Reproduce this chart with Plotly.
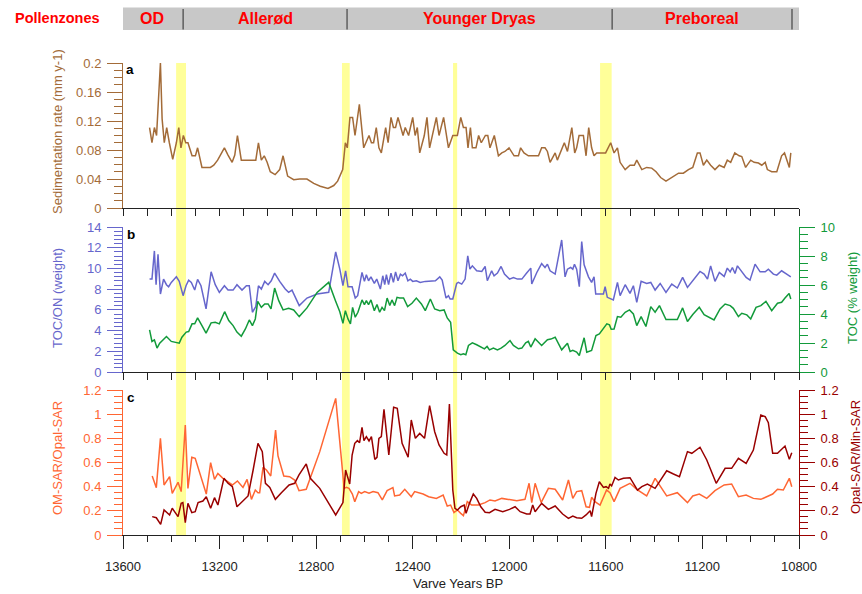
import plotly.graph_objects as go

# ---------------------------------------------------------------- data
# (a) sedimentation rate, mm/yr
SED_YEARS = [13490, 13480, 13470, 13461, 13445, 13438, 13429, 13419, 13408, 13400, 13394, 13379,
             13369, 13360, 13350, 13340, 13331, 13314, 13300, 13291, 13273, 13238, 13224, 13208,
             13180, 13165, 13148, 13137, 13126, 13110, 13050, 13039, 13027, 13015, 13003, 12990,
             12970, 12951, 12937, 12918, 12893, 12868, 12838, 12810, 12783, 12751, 12727, 12711,
             12690, 12679, 12671, 12660, 12649, 12639, 12621, 12603, 12581, 12571, 12562, 12551,
             12540, 12530, 12512, 12502, 12490, 12480, 12471, 12461, 12440, 12431, 12417, 12400,
             12390, 12381, 12371, 12352, 12341, 12330, 12302, 12291, 12272, 12252, 12234, 12215,
             12201, 12190, 12179, 12171, 12161, 12153, 12138, 12127, 12116, 12099, 12089, 12080,
             12062, 12045, 12031, 12018, 12001, 11980, 11962, 11953, 11939, 11921, 11879, 11866,
             11852, 11842, 11831, 11810, 11801, 11772, 11759, 11741, 11729, 11721, 11711, 11693,
             11682, 11671, 11659, 11649, 11638, 11601, 11580, 11566, 11552, 11541, 11520, 11500,
             11482, 11472, 11451, 11431, 11410, 11392, 11373, 11351, 11327, 11299, 11279, 11258,
             11240, 11221, 11210, 11196, 11182, 11166, 11148, 11130, 11110, 11097, 11083, 11066,
             11048, 11037, 11021, 11000, 10986, 10968, 10954, 10940, 10931, 10913, 10892, 10872,
             10860, 10840, 10834]
SED_RATE = [0.111, 0.090, 0.111, 0.100, 0.200, 0.123, 0.090, 0.111, 0.090, 0.075, 0.067, 0.090,
            0.111, 0.083, 0.100, 0.090, 0.090, 0.072, 0.072, 0.083, 0.056, 0.056, 0.059, 0.066,
            0.083, 0.073, 0.063, 0.073, 0.100, 0.066, 0.066, 0.090, 0.066, 0.072, 0.063, 0.050,
            0.046, 0.053, 0.072, 0.044, 0.039, 0.040, 0.040, 0.034, 0.030, 0.027, 0.031, 0.037,
            0.053, 0.090, 0.083, 0.125, 0.125, 0.100, 0.143, 0.083, 0.100, 0.090, 0.090, 0.111,
            0.083, 0.076, 0.111, 0.090, 0.125, 0.111, 0.111, 0.125, 0.100, 0.111, 0.100, 0.125,
            0.100, 0.111, 0.076, 0.100, 0.125, 0.083, 0.125, 0.100, 0.125, 0.083, 0.100, 0.100,
            0.125, 0.111, 0.111, 0.083, 0.111, 0.083, 0.083, 0.100, 0.090, 0.100, 0.100, 0.083,
            0.100, 0.072, 0.076, 0.078, 0.083, 0.072, 0.072, 0.083, 0.076, 0.072, 0.072, 0.083,
            0.083, 0.078, 0.063, 0.076, 0.066, 0.090, 0.078, 0.111, 0.076, 0.083, 0.100, 0.100,
            0.072, 0.111, 0.083, 0.072, 0.076, 0.076, 0.090, 0.076, 0.083, 0.063, 0.053, 0.059,
            0.059, 0.066, 0.053, 0.056, 0.055, 0.050, 0.042, 0.037, 0.042, 0.048, 0.048, 0.053,
            0.056, 0.076, 0.076, 0.059, 0.066, 0.059, 0.053, 0.059, 0.056, 0.066, 0.063, 0.076,
            0.072, 0.071, 0.056, 0.066, 0.063, 0.062, 0.059, 0.063, 0.053, 0.050, 0.050, 0.072,
            0.076, 0.056, 0.076]

# (b) TOC/ON weight ratio
TOCON_YEARS = [13490, 13480, 13470, 13463, 13455, 13445, 13432, 13420, 13411, 13400, 13379, 13367,
               13351, 13339, 13328, 13317, 13303, 13291, 13277, 13256, 13235, 13218, 13201, 13180,
               13165, 13144, 13128, 13107, 13089, 13077, 13064, 13050, 13039, 13027, 13013, 12999,
               12986, 12972, 12951, 12928, 12914, 12900, 12870, 12838, 12796, 12748, 12719, 12702,
               12689, 12678, 12668, 12651, 12638, 12628, 12610, 12600, 12592, 12583, 12573, 12559,
               12549, 12534, 12524, 12516, 12509, 12500, 12490, 12480, 12471, 12461, 12451, 12442,
               12431, 12420, 12410, 12400, 12385, 12369, 12348, 12327, 12306, 12288, 12278, 12262,
               12252, 12245, 12234, 12218, 12211, 12197, 12183, 12172, 12163, 12153, 12135, 12114,
               12100, 12091, 12073, 12063, 12049, 12034, 12020, 11999, 11983, 11966, 11948, 11928,
               11911, 11907, 11886, 11866, 11852, 11842, 11831, 11810, 11783, 11769, 11759, 11746,
               11737, 11730, 11721, 11710, 11700, 11690, 11672, 11659, 11649, 11642, 11624, 11610,
               11603, 11594, 11569, 11552, 11541, 11520, 11500, 11486, 11472, 11454, 11431, 11414,
               11396, 11375, 11351, 11327, 11304, 11282, 11262, 11240, 11224, 11210, 11193, 11179,
               11166, 11148, 11130, 11110, 11097, 11085, 11076, 11065, 11055, 11041, 11019, 11003,
               10982, 10961, 10940, 10927, 10906, 10892, 10872, 10851, 10834]
TOCON = [8.97, 8.97, 11.69, 8.43, 11.37, 7.53, 8.97, 8.43, 8.23, 8.65, 9.19, 8.75,
         7.37, 8.33, 8.87, 8.65, 7.91, 8.94, 8.33, 6.09, 9.67, 8.43, 7.69, 8.33,
         7.91, 7.91, 8.43, 7.91, 8.33, 8.33, 5.77, 6.31, 8.33, 8.01, 8.75, 8.43,
         8.81, 9.55, 8.75, 8.01, 7.69, 7.91, 6.41, 7.14, 7.53, 7.69, 11.60, 9.93,
         8.33, 9.77, 8.23, 8.23, 7.14, 7.37, 9.61, 8.75, 9.39, 8.81, 9.19, 8.55,
         8.97, 8.01, 9.29, 8.43, 9.39, 8.43, 9.55, 8.65, 9.67, 8.81, 9.45, 9.29,
         9.55, 8.81, 8.97, 8.75, 8.81, 8.65, 8.75, 8.75, 8.81, 9.19, 8.87, 7.14,
         7.37, 7.05, 7.05, 8.55, 8.65, 8.49, 8.97, 11.21, 9.93, 10.25, 9.77, 9.71,
         10.19, 8.81, 9.77, 9.29, 9.55, 10.19, 9.45, 8.97, 9.13, 8.97, 8.97, 9.55,
         10.03, 8.49, 9.61, 10.47, 10.09, 10.41, 9.77, 9.45, 12.75, 9.19, 9.93, 10.09,
         9.93, 10.41, 9.93, 8.23, 12.59, 10.35, 9.19, 8.65, 9.19, 7.53, 7.53, 7.53,
         8.23, 7.21, 6.95, 8.65, 7.37, 8.43, 7.59, 8.33, 6.73, 8.75, 8.55, 8.65,
         7.91, 8.55, 7.69, 8.49, 8.11, 9.13, 8.17, 8.81, 9.29, 9.71, 9.45, 8.97,
         10.25, 8.75, 9.61, 9.23, 10.03, 9.67, 10.09, 9.51, 10.25, 9.77, 9.13, 8.87,
         10.41, 9.67, 9.67, 9.93, 9.45, 9.35, 9.77, 9.45, 9.19]

# (b) total organic carbon, % weight
TOC_YEARS = [13490, 13480, 13470, 13459, 13448, 13434, 13420, 13400, 13379, 13367, 13356, 13338,
             13328, 13314, 13303, 13291, 13273, 13256, 13235, 13218, 13201, 13179, 13162, 13144,
             13128, 13110, 13093, 13077, 13064, 13052, 13042, 13027, 13013, 12999, 12987, 12972,
             12955, 12937, 12914, 12893, 12870, 12838, 12796, 12748, 12720, 12702, 12689, 12679,
             12668, 12658, 12649, 12638, 12627, 12610, 12600, 12592, 12583, 12573, 12559, 12548,
             12537, 12527, 12517, 12506, 12495, 12486, 12475, 12465, 12454, 12438, 12421, 12403,
             12385, 12364, 12348, 12327, 12309, 12288, 12270, 12257, 12243, 12232, 12215, 12201,
             12190, 12180, 12169, 12153, 12135, 12118, 12103, 12092, 12082, 12066, 12049, 12034,
             12018, 11997, 11983, 11962, 11948, 11932, 11921, 11911, 11893, 11866, 11842, 11828,
             11810, 11783, 11759, 11748, 11737, 11721, 11710, 11690, 11679, 11659, 11641, 11627,
             11610, 11596, 11585, 11578, 11566, 11552, 11538, 11520, 11502, 11486, 11472, 11454,
             11434, 11414, 11396, 11378, 11351, 11304, 11282, 11262, 11240, 11213, 11193, 11175,
             11152, 11127, 11106, 11085, 11072, 11051, 11037, 11016, 11000, 10978, 10958, 10937,
             10913, 10889, 10872, 10858, 10841, 10834]
TOC = [2.91, 2.11, 2.22, 1.65, 1.99, 2.22, 2.45, 2.11, 2.01, 1.99, 2.40, 2.75,
       2.79, 3.32, 3.32, 3.73, 3.20, 2.68, 3.39, 3.43, 3.32, 4.16, 3.55, 3.20,
       2.75, 2.47, 2.97, 3.59, 3.20, 3.66, 4.87, 4.46, 4.69, 4.69, 4.35, 5.79,
       4.92, 4.28, 4.39, 4.28, 3.82, 4.42, 5.49, 6.18, 4.92, 4.16, 3.36, 4.23,
       3.66, 3.32, 4.46, 3.78, 4.12, 4.97, 4.65, 4.92, 4.65, 4.97, 4.23, 4.65,
       4.12, 4.46, 4.23, 5.10, 4.58, 4.97, 4.58, 5.15, 5.10, 5.10, 4.51, 4.74,
       5.10, 4.69, 4.23, 5.03, 4.35, 4.23, 4.28, 3.73, 3.43, 1.53, 1.30, 1.19,
       1.26, 1.19, 1.83, 2.01, 1.88, 1.72, 1.60, 1.76, 1.53, 1.65, 1.53, 1.65,
       1.83, 2.17, 1.83, 1.60, 1.65, 2.01, 2.11, 1.72, 2.29, 1.83, 2.22, 2.27,
       2.40, 1.53, 1.99, 1.42, 1.49, 1.37, 1.14, 2.36, 1.37, 1.49, 2.52, 2.63,
       2.97, 3.32, 3.25, 2.95, 2.97, 3.82, 3.78, 4.12, 4.28, 4.00, 3.20, 3.82,
       3.14, 4.51, 4.12, 4.58, 3.62, 3.62, 4.42, 3.48, 3.96, 4.46, 3.96, 3.78,
       3.59, 4.35, 4.69, 4.58, 4.39, 3.82, 4.05, 3.94, 3.66, 4.46, 4.58, 4.87,
       4.23, 4.74, 4.81, 5.10, 5.42, 5.03]

# (c) OM-SAR / Opal-SAR
OM_YEARS = [13479, 13462, 13445, 13430, 13407, 13396, 13372, 13359, 13342, 13331, 13315, 13301,
            13255, 13237, 13221, 13207, 13186, 13168, 13147, 13126, 13103, 13086, 13068, 13052,
            13041, 13034, 13020, 13006, 12988, 12968, 12958, 12934, 12910, 12889, 12871, 12841,
            12785, 12719, 12700, 12684, 12675, 12664, 12650, 12640, 12624, 12613, 12599, 12581,
            12564, 12544, 12526, 12506, 12482, 12475, 12454, 12433, 12406, 12392, 12357, 12334,
            12302, 12274, 12257, 12243, 12229, 12215, 12201, 12190, 12174, 12156, 12128, 12100,
            12080, 12059, 12031, 11997, 11969, 11935, 11918, 11907, 11893, 11868, 11838, 11810,
            11779, 11755, 11737, 11721, 11700, 11682, 11668, 11659, 11645, 11624, 11597, 11583,
            11566, 11541, 11500, 11472, 11431, 11396, 11378, 11348, 11304, 11262, 11240, 11213,
            11182, 11148, 11110, 11079, 11051, 11019, 10989, 10958, 10927, 10909, 10889, 10865,
            10840, 10830]
OM_OPAL = [0.488, 0.392, 0.800, 0.414, 0.483, 0.345, 0.436, 0.359, 0.910, 0.386, 0.643, 0.634,
           0.339, 0.599, 0.461, 0.510, 0.469, 0.441, 0.414, 0.447, 0.394, 0.461, 0.295, 0.372,
           0.350, 0.350, 0.560, 0.538, 0.488, 0.869, 0.654, 0.488, 0.483, 0.455, 0.367, 0.378,
           0.690, 1.131, 0.717, 0.386, 0.394, 0.386, 0.339, 0.276, 0.359, 0.345, 0.359, 0.345,
           0.359, 0.350, 0.290, 0.367, 0.392, 0.323, 0.331, 0.378, 0.317, 0.359, 0.339, 0.317,
           0.303, 0.331, 0.240, 0.248, 0.185, 0.207, 0.179, 0.160, 0.276, 0.248, 0.248, 0.268,
           0.290, 0.281, 0.303, 0.295, 0.284, 0.295, 0.428, 0.268, 0.428, 0.268, 0.386, 0.378,
           0.290, 0.455, 0.303, 0.359, 0.367, 0.234, 0.229, 0.312, 0.276, 0.248, 0.372, 0.350,
           0.276, 0.386, 0.428, 0.378, 0.323, 0.469, 0.414, 0.323, 0.350, 0.268, 0.323, 0.339,
           0.303, 0.367, 0.414, 0.422, 0.317, 0.331, 0.303, 0.295, 0.323, 0.339, 0.378, 0.372,
           0.469, 0.400]

# (c) Opal-SAR / Min-SAR
OPAL_YEARS = [13479, 13462, 13444, 13430, 13407, 13396, 13372, 13359, 13352, 13342, 13331, 13315,
              13301, 13289, 13269, 13255, 13237, 13221, 13207, 13193, 13182, 13165, 13147, 13128,
              13103, 13082, 13061, 13041, 13023, 13010, 12992, 12969, 12944, 12912, 12889, 12871,
              12841, 12824, 12785, 12751, 12719, 12689, 12678, 12661, 12651, 12640, 12629, 12620,
              12610, 12602, 12592, 12581, 12571, 12557, 12548, 12540, 12530, 12519, 12499, 12479,
              12464, 12444, 12419, 12406, 12389, 12371, 12351, 12330, 12309, 12291, 12270, 12259,
              12248, 12234, 12225, 12215, 12201, 12187, 12179, 12165, 12149, 12135, 12118, 12100,
              12082, 12059, 12045, 12027, 11999, 11976, 11955, 11928, 11914, 11903, 11893, 11866,
              11838, 11810, 11779, 11755, 11737, 11721, 11700, 11682, 11665, 11659, 11641, 11627,
              11610, 11599, 11589, 11583, 11576, 11562, 11548, 11527, 11500, 11469, 11451, 11428,
              11396, 11378, 11348, 11320, 11295, 11262, 11244, 11210, 11182, 11143, 11106, 11079,
              11051, 11019, 10989, 10958, 10940, 10927, 10909, 10889, 10858, 10840, 10830]
OPAL_MIN = [0.152, 0.143, 0.088, 0.207, 0.166, 0.221, 0.152, 0.262, 0.268, 0.102, 0.262, 0.185,
            0.193, 0.268, 0.281, 0.317, 0.221, 0.309, 0.248, 0.359, 0.469, 0.428, 0.400, 0.234,
            0.284, 0.323, 0.538, 0.759, 0.690, 0.428, 0.394, 0.295, 0.350, 0.414, 0.428, 0.497,
            0.588, 0.469, 0.386, 0.276, 0.166, 0.268, 0.538, 0.422, 0.662, 0.759, 0.781, 0.764,
            0.891, 0.781, 0.814, 0.778, 0.814, 0.626, 0.643, 0.800, 0.814, 1.040, 0.662, 1.057,
            1.048, 0.759, 0.643, 0.952, 0.800, 0.841, 0.800, 1.070, 0.855, 0.745, 0.676, 0.662,
            1.084, 0.372, 0.221, 0.207, 0.234, 0.248, 0.179, 0.262, 0.339, 0.303, 0.234, 0.188,
            0.185, 0.212, 0.201, 0.193, 0.212, 0.234, 0.193, 0.174, 0.174, 0.248, 0.193, 0.262,
            0.212, 0.240, 0.174, 0.138, 0.157, 0.143, 0.138, 0.166, 0.201, 0.152, 0.345, 0.441,
            0.394, 0.400, 0.386, 0.422, 0.406, 0.477, 0.455, 0.469, 0.474, 0.372, 0.400, 0.422,
            0.386, 0.441, 0.532, 0.505, 0.483, 0.690, 0.676, 0.726, 0.621, 0.428, 0.552, 0.552,
            0.634, 0.593, 0.703, 0.993, 0.979, 0.930, 0.676, 0.676, 0.736, 0.626, 0.681]

# highlighted transition intervals (years BP)
BANDS = [(13380, 13339), (12693, 12661), (12233, 12216), (11624, 11576)]

# pollen zones: (label, older edge, younger edge)
ZONE_EDGES = [13351, 12672, 11574, 10829]
ZONES = [("OD", 13608, 13351), ("Allerød", 13351, 12672),
         ("Younger Dryas", 12672, 11574), ("Preboreal", 11574, 10829)]

X_RANGE = [13600, 10800]

# ---------------------------------------------------------------- styling
FONT = "Liberation Sans, Arial, sans-serif"
C_SED = "#A36B38"
C_TOCON = "#6666CC"
C_TOC = "#129A3A"
C_OM = "#FF6633"
C_OPAL = "#990000"
AX = "#222222"

W, H = 862, 594
ML, MR, MT, MB = 123, 63, 63, 59
PW, PH = W - ML - MR, H - MT - MB


def px_x(px):
    return (px - ML) / PW


def px_y(py):
    return (H - MB - py) / PH


def dom(top, bot):
    return [px_y(bot), px_y(top)]


DOM_A = dom(63, 208)
DOM_B = dom(227, 372)
DOM_C = dom(390, 535)

fig = go.Figure()

fig.add_trace(go.Scatter(x=SED_YEARS, y=SED_RATE, mode="lines", xaxis="x", yaxis="y",
                         line=dict(color=C_SED, width=1.5), showlegend=False))
fig.add_trace(go.Scatter(x=TOCON_YEARS, y=TOCON, mode="lines", xaxis="x2", yaxis="y2",
                         line=dict(color=C_TOCON, width=1.5), showlegend=False))
fig.add_trace(go.Scatter(x=TOC_YEARS, y=TOC, mode="lines", xaxis="x2", yaxis="y3",
                         line=dict(color=C_TOC, width=1.5), showlegend=False))
fig.add_trace(go.Scatter(x=OM_YEARS, y=OM_OPAL, mode="lines", xaxis="x3", yaxis="y4",
                         line=dict(color=C_OM, width=1.5), showlegend=False))
fig.add_trace(go.Scatter(x=OPAL_YEARS, y=OPAL_MIN, mode="lines", xaxis="x3", yaxis="y5",
                         line=dict(color=C_OPAL, width=1.5), showlegend=False))


def xaxis(anchor, labels, major_len, minor_len):
    return dict(domain=[0, 1], anchor=anchor, range=X_RANGE, autorange=False,
                tickmode="linear", tick0=10800, dtick=400, ticks="outside",
                ticklen=major_len, tickwidth=1, tickcolor=AX, tickformat="d",
                ticklabelstandoff=6,
                minor=dict(dtick=100, tick0=10800, ticks="outside", ticklen=minor_len,
                           tickwidth=1, tickcolor=AX, showgrid=False),
                showticklabels=labels, tickfont=dict(size=13, color=AX),
                showline=True, linecolor=AX, linewidth=1, showgrid=False,
                zeroline=False, fixedrange=True)


def yaxis(dom_, rng, dtick, mdtick, color, side="left", anchor=None, overlay=None):
    d = dict(domain=dom_, range=rng, autorange=False, side=side,
             tickmode="linear", tick0=0, dtick=dtick, ticks="outside",
             ticklen=15, tickwidth=1, tickcolor=color,
             minor=dict(dtick=mdtick, tick0=0, ticks="outside", ticklen=8,
                        tickwidth=1, tickcolor=color, showgrid=False),
             tickfont=dict(size=13, color=color), ticklabelstandoff=3,
             showline=True, linecolor=color, linewidth=1, showgrid=False,
             zeroline=False, fixedrange=True)
    if anchor:
        d["anchor"] = anchor
    if overlay:
        d["overlaying"] = overlay
    return d


fig.update_layout(
    width=W, height=H,
    margin=dict(l=ML, r=MR, t=MT, b=MB, autoexpand=False),
    paper_bgcolor="white", plot_bgcolor="rgba(0,0,0,0)",
    font=dict(family=FONT, size=13, color=AX),
    xaxis=xaxis("y", False, 7, 7),
    xaxis2=xaxis("y2", False, 7, 7),
    xaxis3=xaxis("y4", True, 13, 6),
    yaxis=yaxis(DOM_A, [0, 0.2], 0.04, 0.01, C_SED, anchor="x"),
    yaxis2=yaxis(DOM_B, [0, 14], 2, 0.4, C_TOCON, anchor="x2"),
    yaxis3=yaxis(DOM_B, [0, 10], 2, 0.5, C_TOC, side="right", anchor="x2", overlay="y2"),
    yaxis4=yaxis(DOM_C, [0, 1.2], 0.2, 0.05, C_OM, anchor="x3"),
    yaxis5=yaxis(DOM_C, [0, 1.2], 0.2, 0.05, C_OPAL, side="right", anchor="x3", overlay="y4"),
)

shapes = []
# transition bands spanning all three panels
for x0, x1 in BANDS:
    shapes.append(dict(type="rect", xref="x", yref="paper", x0=x0, x1=x1, y0=0, y1=1,
                       fillcolor="#FFFF99", line=dict(width=0), layer="below"))

# pollen-zone strip
shapes.append(dict(type="rect", xref="x", yref="paper", x0=13608, x1=10792,
                   y0=px_y(30), y1=px_y(7.5), fillcolor="#C8C8C8", line=dict(width=0)))
for e in ZONE_EDGES:
    shapes.append(dict(type="line", xref="x", yref="paper", x0=e, x1=e,
                       y0=px_y(29.5), y1=px_y(9), line=dict(color="#444444", width=1.2)))
fig.update_layout(shapes=shapes)

ann = []
for name, a0, a1 in ZONES:
    ann.append(dict(text="<b>%s</b>" % name, xref="x", yref="paper", x=(a0 + a1) / 2,
                    y=px_y(18.5), showarrow=False, xanchor="center", yanchor="middle",
                    font=dict(size=16, color="#FF0000", family=FONT)))
ann.append(dict(text="<b>Pollenzones</b>", xref="paper", yref="paper", x=px_x(57), y=px_y(18.5),
                showarrow=False, xanchor="center", yanchor="middle",
                font=dict(size=14.5, color="#FF0000", family=FONT)))

for letter, px, py in [("a", 130, 70), ("b", 131, 234), ("c", 131, 397)]:
    ann.append(dict(text="<b>%s</b>" % letter, xref="paper", yref="paper", x=px_x(px),
                    y=px_y(py), showarrow=False, xanchor="center", yanchor="middle",
                    font=dict(size=13.5, color="#000000", family=FONT)))

for text, color, px, py in [("Sedimentation rate (mm y-1)", C_SED, 57, 132),
                            ("TOC/ON (weight)", C_TOCON, 57, 298),
                            ("OM-SAR/Opal-SAR", C_OM, 57, 458),
                            ("TOC (% weight)", C_TOC, 852, 298),
                            ("Opal-SAR/Min-SAR", C_OPAL, 855, 457)]:
    ann.append(dict(text=text, xref="paper", yref="paper", x=px_x(px), y=px_y(py),
                    textangle=-90, showarrow=False, xanchor="center", yanchor="middle",
                    font=dict(size=13, color=color, family=FONT)))

ann.append(dict(text="Varve Years BP", xref="paper", yref="paper", x=px_x(458), y=px_y(583),
                showarrow=False, xanchor="center", yanchor="middle",
                font=dict(size=13, color=AX, family=FONT)))
fig.update_layout(annotations=ann)

fig.write_html("out.html")
